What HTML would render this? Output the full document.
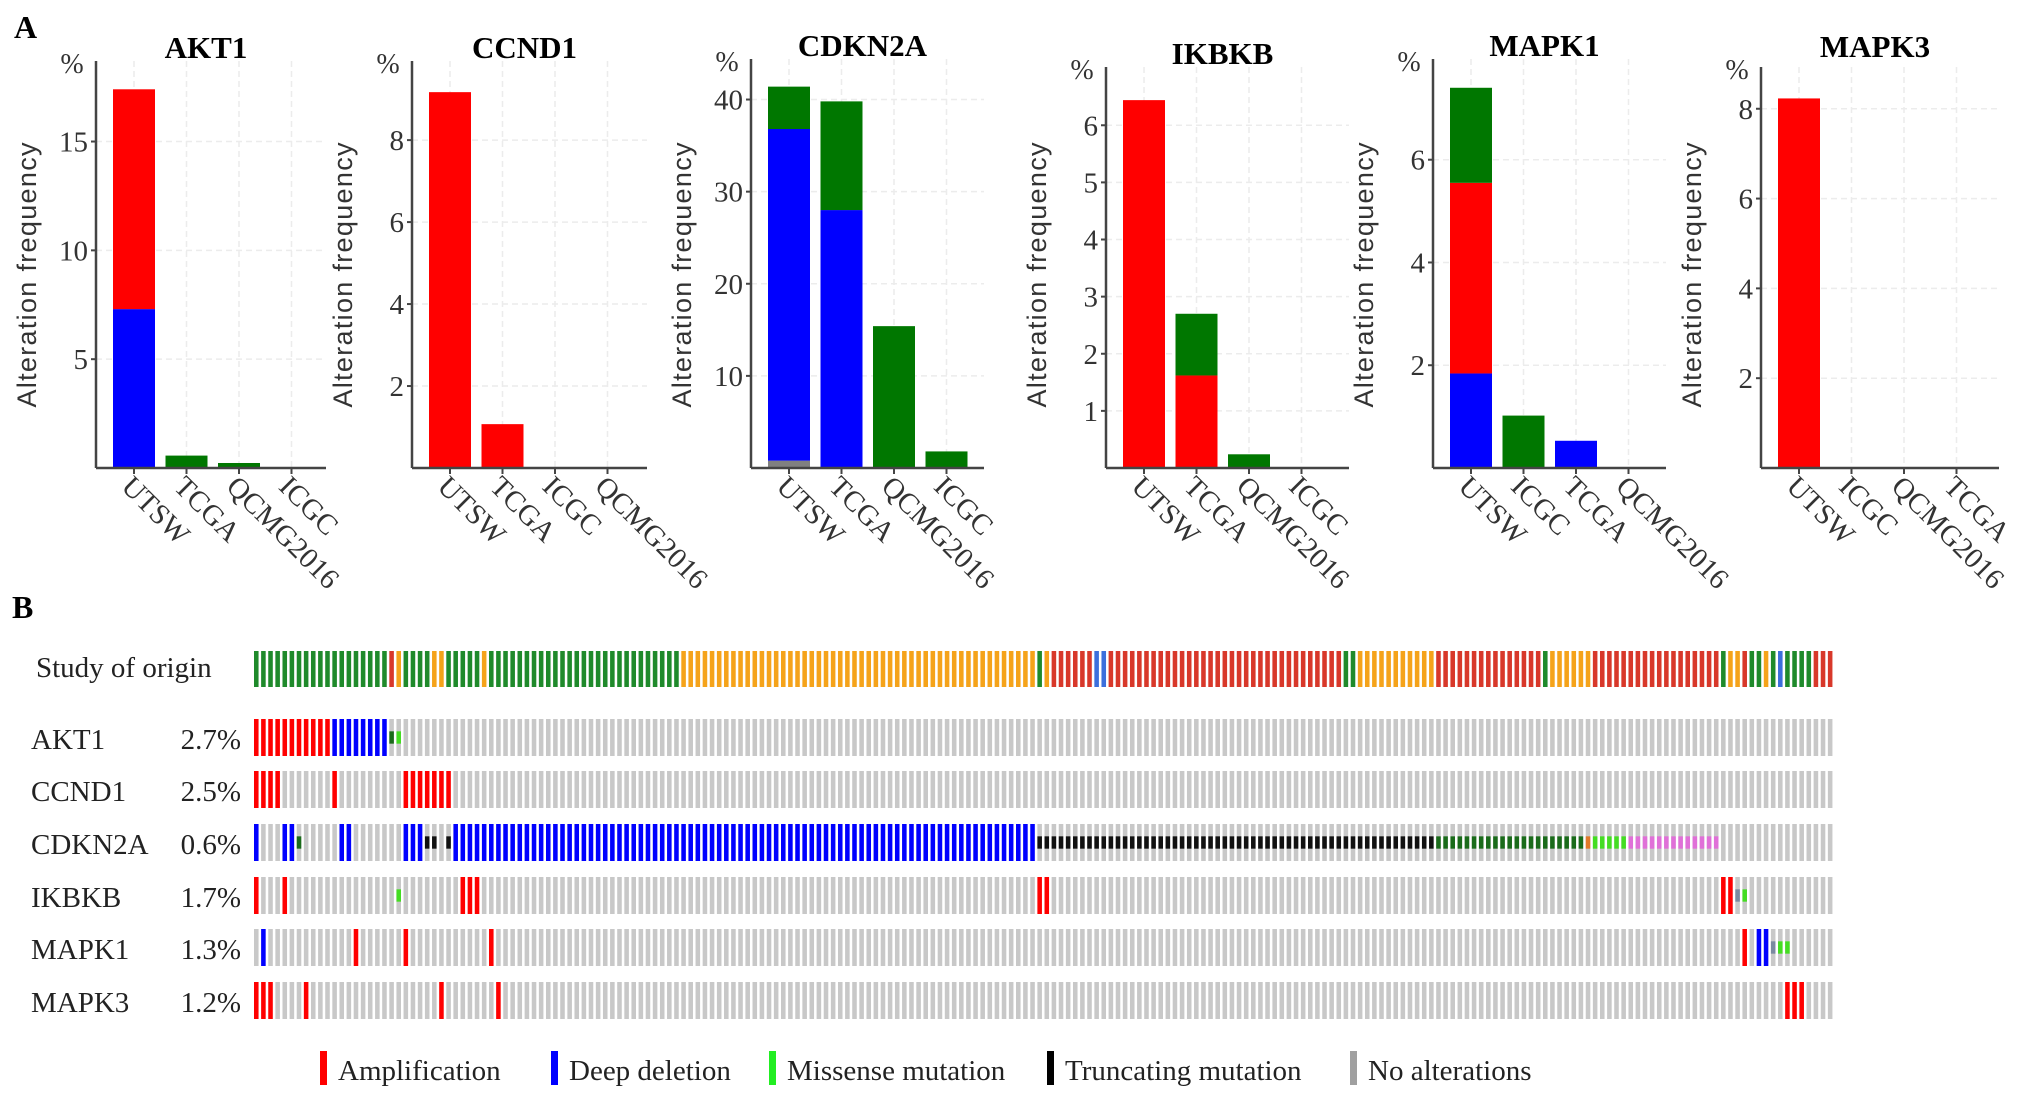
<!DOCTYPE html>
<html><head><meta charset="utf-8"><style>
html,body{margin:0;padding:0;background:#fff;}
svg{display:block;}
.serif{font-family:"Liberation Serif",serif;}
.sans{font-family:"Liberation Sans",sans-serif;}
</style></head>
<body>
<svg id="fig" width="2031" height="1106" viewBox="0 0 2031 1106" xmlns="http://www.w3.org/2000/svg">
<rect width="2031" height="1106" fill="#fff"/>
<text x="14" y="38" class="serif" font-size="32" font-weight="bold">A</text>
<text x="12" y="618" class="serif" font-size="32" font-weight="bold">B</text>
<g id="panelA"></g>
<g id="panelB"></g>
<g id="legend"></g>
</svg>
<script>
// ---------- Panel A data ----------
const genes = ["AKT1","CCND1","CDKN2A","IKBKB","MAPK1","MAPK3"];
const categories = [
  ["UTSW","TCGA","QCMG2016","ICGC"],
  ["UTSW","TCGA","ICGC","QCMG2016"],
  ["UTSW","TCGA","QCMG2016","ICGC"],
  ["UTSW","TCGA","QCMG2016","ICGC"],
  ["UTSW","ICGC","TCGA","QCMG2016"],
  ["UTSW","ICGC","QCMG2016","TCGA"]
];
const multipleVals = [[0,0,0,0],[0,0,0,0],[0.8,0,0,0],[0,0,0,0],[0,0,0,0],[0,0,0,0]];
const deletionVals = [[7.3,0,0,0],[0,0,0,0],[36.0,28.0,0,0],[0,0,0,0],[1.84,0,0.53,0],[0,0,0,0]];
const amplificationVals = [[10.1,0,0,0],[9.17,1.07,0,0],[0,0,0,0],[6.44,1.62,0,0],[3.71,0,0,0],[8.23,0,0,0]];
const mutationVals = [[0,0.57,0.23,0],[0,0,0,0],[4.6,11.8,15.4,1.8],[0,1.08,0.24,0],[1.85,1.02,0,0],[0,0,0,0]];
const tickLabels = [[5,10,15],[2,4,6,8],[10,20,30,40],[1,2,3,4,5,6],[2,4,6],[2,4,6,8]];
const domainMax = [18.7,9.93,44.4,7.02,7.96,8.93];

// ---------- Panel B data ----------
const oncoGenes = ["AKT1","CCND1","CDKN2A","IKBKB","MAPK1","MAPK3"];
const oncoPercents = ["2.7%","2.5%","0.6%","1.7%","1.3%","1.2%"];
const nSamples = 222;
const studyRuns = [
 [0,18,"ICGC"],[19,19,"TCGA"],[20,20,"QCMG"],[21,24,"ICGC"],[25,26,"QCMG"],[27,31,"ICGC"],[32,32,"QCMG"],
 [33,59,"ICGC"],[60,109,"QCMG"],[110,110,"ICGC"],[111,111,"QCMG"],[112,117,"TCGA"],[118,119,"UTSW"],
 [120,152,"TCGA"],[153,154,"ICGC"],[155,165,"QCMG"],[166,180,"TCGA"],[181,181,"ICGC"],[182,187,"QCMG"],
 [188,205,"TCGA"],[206,206,"ICGC"],[207,208,"QCMG"],[209,209,"TCGA"],[210,211,"ICGC"],[212,212,"QCMG"],
 [213,213,"ICGC"],[214,214,"UTSW"],[215,218,"ICGC"],[219,221,"TCGA"]
];
const alterations = [
 [[0,10,"amp"],[11,18,"del"],[19,19,"inframe"],[20,20,"mis"]],
 [[0,3,"amp"],[11,11,"amp"],[21,27,"amp"]],
 [[0,0,"del"],[4,5,"del"],[6,6,"inframe"],[12,13,"del"],[21,23,"del"],[24,25,"trunc"],[27,27,"trunc"],[28,109,"del"],
  [110,165,"trunc"],[166,186,"inframe"],[187,187,"other"],[188,192,"mis"],[193,205,"pink"]],
 [[0,0,"amp"],[4,4,"amp"],[20,20,"mis"],[29,31,"amp"],[110,111,"amp"],[206,207,"amp"],[208,208,"grey2"],[209,209,"mis"]],
 [[1,1,"del"],[14,14,"amp"],[21,21,"amp"],[33,33,"amp"],[209,209,"amp"],[211,212,"del"],[213,213,"grey2"],[214,215,"mis"]],
 [[0,2,"amp"],[7,7,"amp"],[26,26,"amp"],[34,34,"amp"],[215,217,"amp"]]
];

const NS="http://www.w3.org/2000/svg";
function mk(tag, attrs, parent){const e=document.createElementNS(NS,tag);for(const k in attrs)e.setAttribute(k,attrs[k]);parent.appendChild(e);return e;}

const axisXs=[96,412,751,1106,1433,1761];
const axisEnds=[326,647,984,1349,1666,1999];
const axisTops=[61,61,59,67,59,67];
const baseY=468;
const catStep=52.5, catOff=38, barW=42;
const colors={multiple:"#808080",del:"#0000ff",amp:"#ff0000",mut:"#007700"};
const A=document.getElementById("panelA");
genes.forEach((g,p)=>{
  const gp=mk("g",{},A);
  
  
  const ax=axisXs[p], top=axisTops[p];
  const y=v=>baseY-v*(baseY-top)/domainMax[p];
  const x=i=>ax+catOff+i*catStep;
  tickLabels[p].forEach(t=>{
    const l=mk("line",{x1:ax,x2:axisEnds[p],y1:y(t),y2:y(t),stroke:"#ececec","stroke-width":1.5,"stroke-dasharray":"6,4"},gp);
    
    
  });
  categories[p].forEach((c,i)=>{
    const l=mk("line",{x1:x(i),x2:x(i),y1:top,y2:baseY,stroke:"#ececec","stroke-width":1.5,"stroke-dasharray":"6,4"},gp);
    
    
  });
  categories[p].forEach((c,i)=>{
    let acc=0;
    [["multiple",multipleVals],["del",deletionVals],["amp",amplificationVals],["mut",mutationVals]].forEach(([k,arr])=>{
      const v=arr[p][i]; if(v<=0) return;
      const r=mk("rect",{x:x(i)-barW/2,y:y(acc+v),width:barW,height:y(acc)-y(acc+v),fill:colors[k]},gp);
      
      
      acc+=v;
    });
  });
  const ya=mk("line",{x1:ax,x2:ax,y1:top,y2:baseY,stroke:"#444","stroke-width":2.5},gp);
  
  
  const xa=mk("line",{x1:ax,x2:axisEnds[p],y1:baseY,y2:baseY,stroke:"#444","stroke-width":2.5},gp);
  
  
  tickLabels[p].forEach(t=>{
    mk("line",{x1:ax-5,x2:ax,y1:y(t),y2:y(t),stroke:"#444","stroke-width":2},gp);
    const tx=mk("text",{x:ax-8,y:y(t)+10,"text-anchor":"end","font-size":29,fill:"#333",class:"serif"},gp);
    tx.textContent=t;
    
    
  });
  categories[p].forEach((c,i)=>{
    mk("line",{x1:x(i),x2:x(i),y1:baseY,y2:baseY+6,stroke:"#444","stroke-width":2},gp);
    const tx=mk("text",{x:0,y:0,"font-size":29,fill:"#333",class:"serif",transform:`translate(${x(i)-14},${baseY+20}) rotate(45)`},gp);
    tx.textContent=c;
    
    
  });
  const ttl=mk("text",{x:(ax+axisEnds[p])/2-5,y:top-(p===5?10:3),"text-anchor":"middle","font-size":31,"font-weight":"bold",class:"serif"},gp);
  ttl.textContent=g;
  
  
  const pc=mk("text",{x:ax-24,y:top+12,"text-anchor":"middle","font-size":28,fill:"#333",class:"serif"},gp);
  pc.textContent="%";
  
  
  const yt=mk("text",{x:0,y:0,"text-anchor":"middle","font-size":27,fill:"#333",class:"sans",textLength:265,lengthAdjust:"spacing",transform:`translate(${ax-60},275) rotate(-90)`},gp);
  yt.textContent="Alteration frequency";
  
  
});

const B=document.getElementById("panelB");
const gx0=254, gx1=1835, pitch=(gx1-gx0)/nSamples, sw=pitch*0.64;
const studyColors={ICGC:"#1f8a2b",QCMG:"#f5a31a",TCGA:"#d8382a",UTSW:"#3c6fdc"};
const altColors={amp:"#ff0000",del:"#0000ff",mis:"#44dd22",inframe:"#1a6b1a",trunc:"#111111",pink:"#e070d8",other:"#e07a2a",grey2:"#7a8aa0"};
const shortTypes={mis:1,inframe:1,trunc:1,pink:1,other:1,grey2:1};
const sx=i=>gx0+i*pitch;
const soLbl=mk("text",{x:36,y:677,"font-size":29,class:"serif",fill:"#222"},B);
soLbl.textContent="Study of origin";


studyRuns.forEach(([s,e,st])=>{
  for(let i=s;i<=e;i++){
    const r=mk("rect",{x:sx(i),y:651,width:sw,height:36,fill:studyColors[st]},B);
    
    
  }
});
const rowTops=[719,771,824,877,929,982], rowH=37;
oncoGenes.forEach((g,r)=>{
  const t=mk("text",{x:31,y:rowTops[r]+30,"font-size":29,class:"serif",fill:"#222"},B);
  t.textContent=g;
  
  
  const pt=mk("text",{x:241,y:rowTops[r]+30,"text-anchor":"end","font-size":29,class:"serif",fill:"#222"},B);
  pt.textContent=oncoPercents[r];
  
  
  const alt={};
  alterations[r].forEach(([s,e,k])=>{for(let i=s;i<=e;i++)alt[i]=k;});
  for(let i=0;i<nSamples;i++){
    const k=alt[i];
    const full=k&&!shortTypes[k];
    const c=mk("rect",{x:sx(i),y:rowTops[r],width:sw,height:rowH,fill:full?altColors[k]:"#c8c8c8"},B);
    
    
    if(k&&shortTypes[k]){
      const m=mk("rect",{x:sx(i),y:rowTops[r]+rowH/3,width:sw,height:rowH/3,fill:altColors[k]},B);
      
      
    }
  }
});

const L=document.getElementById("legend");
const legItems=[["Amplification","#ff0000",320],["Deep deletion","#0000ff",551],["Missense mutation","#22ee22",769],["Truncating mutation","#000000",1047],["No alterations","#a0a0a0",1350]];
legItems.forEach(([lab,col,lx])=>{
  const g=mk("g",{},L);
  
  
  mk("rect",{x:lx,y:1051,width:7,height:34,fill:col},g);
  const t=mk("text",{x:lx+18,y:1080,"font-size":29,class:"serif",fill:"#222"},g);
  t.textContent=lab;
});
</script>
</body></html>
